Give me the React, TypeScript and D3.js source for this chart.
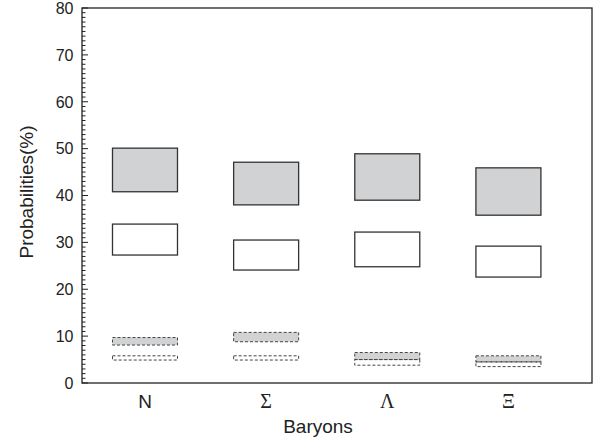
import React from 'react'
import * as d3 from 'd3'

const baryons = ['N', 'Σ', 'Λ', 'Ξ']
const serifLabel = [false, true, true, true]

// [low, high] in percent
const grayBoxes = [[40.8, 50.1], [38.0, 47.1], [39.0, 48.9], [35.8, 45.9]]
const whiteBoxes = [[27.3, 33.9], [24.1, 30.5], [24.8, 32.2], [22.6, 29.2]]
const grayDashed = [[8.1, 9.7], [8.8, 10.8], [5.0, 6.5], [4.5, 5.8]]
const whiteDashed = [[4.9, 5.8], [4.9, 5.8], [3.8, 5.0], [3.5, 4.5]]

const yTicks = [0, 10, 20, 30, 40, 50, 60, 70, 80]

const W = 603
const H = 444
const left = 82
const right = 592
const top = 8
const bottom = 383
const boxW = 65

const App = () => {
  const x = d3.scaleLinear().domain([0.48, 4.69]).range([left, right])
  const y = d3.scaleLinear().domain([0, 80]).range([bottom, top])
  const minor = d3.range(0, 81, 1)
  const font = 'Arial, "Liberation Sans", Helvetica, sans-serif'

  const renderBoxes = (data: number[][], fill: string, dashed: boolean, key: string) =>
    data.map(([lo, hi], i) => (
      <rect
        key={key + i}
        x={x(i + 1) - boxW / 2}
        y={y(hi)}
        width={boxW}
        height={y(lo) - y(hi)}
        fill={fill}
        stroke={dashed ? '#444' : '#333'}
        strokeWidth={dashed ? 1 : 1.3}
        strokeDasharray={dashed ? '3,2' : undefined}
      />
    ))

  return (
    <svg
      width={W}
      height={H}
      style={{ position: 'absolute', left: 0, top: 0, background: '#fff' }}
    >
      <rect x={left} y={top} width={right - left} height={bottom - top} fill="none" stroke="#222" strokeWidth={1.3} />

      {minor.map(v => (
        <line
          key={'m' + v}
          x1={left}
          x2={left + (v % 10 === 0 ? 6 : 3.5)}
          y1={y(v)}
          y2={y(v)}
          stroke="#222"
          strokeWidth={1}
        />
      ))}

      {yTicks.map(v => (
        <text
          key={'t' + v}
          x={left - 8.5}
          y={y(v)}
          dy="0.36em"
          textAnchor="end"
          fontFamily={font}
          fontSize={16}
          fill="#222"
        >
          {v}
        </text>
      ))}

      {renderBoxes(grayBoxes, '#d1d2d4', false, 'g')}
      {renderBoxes(whiteBoxes, '#fff', false, 'w')}
      {renderBoxes(grayDashed, '#d1d2d4', true, 'gd')}
      {renderBoxes(whiteDashed, 'none', true, 'wd')}

      {baryons.map((b, i) => (
        <text
          key={'c' + b}
          x={x(i + 1)}
          y={407.5}
          textAnchor="middle"
          fontFamily={serifLabel[i] ? '"Liberation Serif", "DejaVu Serif", serif' : font}
          fontSize={serifLabel[i] ? 20 : 19}
          fill="#222"
        >
          {b}
        </text>
      ))}

      <text x={318} y={433} textAnchor="middle" fontFamily={font} fontSize={19} fill="#222">
        Baryons
      </text>

      <text
        transform={`translate(26,192) rotate(-90)`}
        dy="0.35em"
        textAnchor="middle"
        fontFamily={font}
        fontSize={19}
        fill="#222"
      >
        Probabilities(%)
      </text>
    </svg>
  )
}

export default App
